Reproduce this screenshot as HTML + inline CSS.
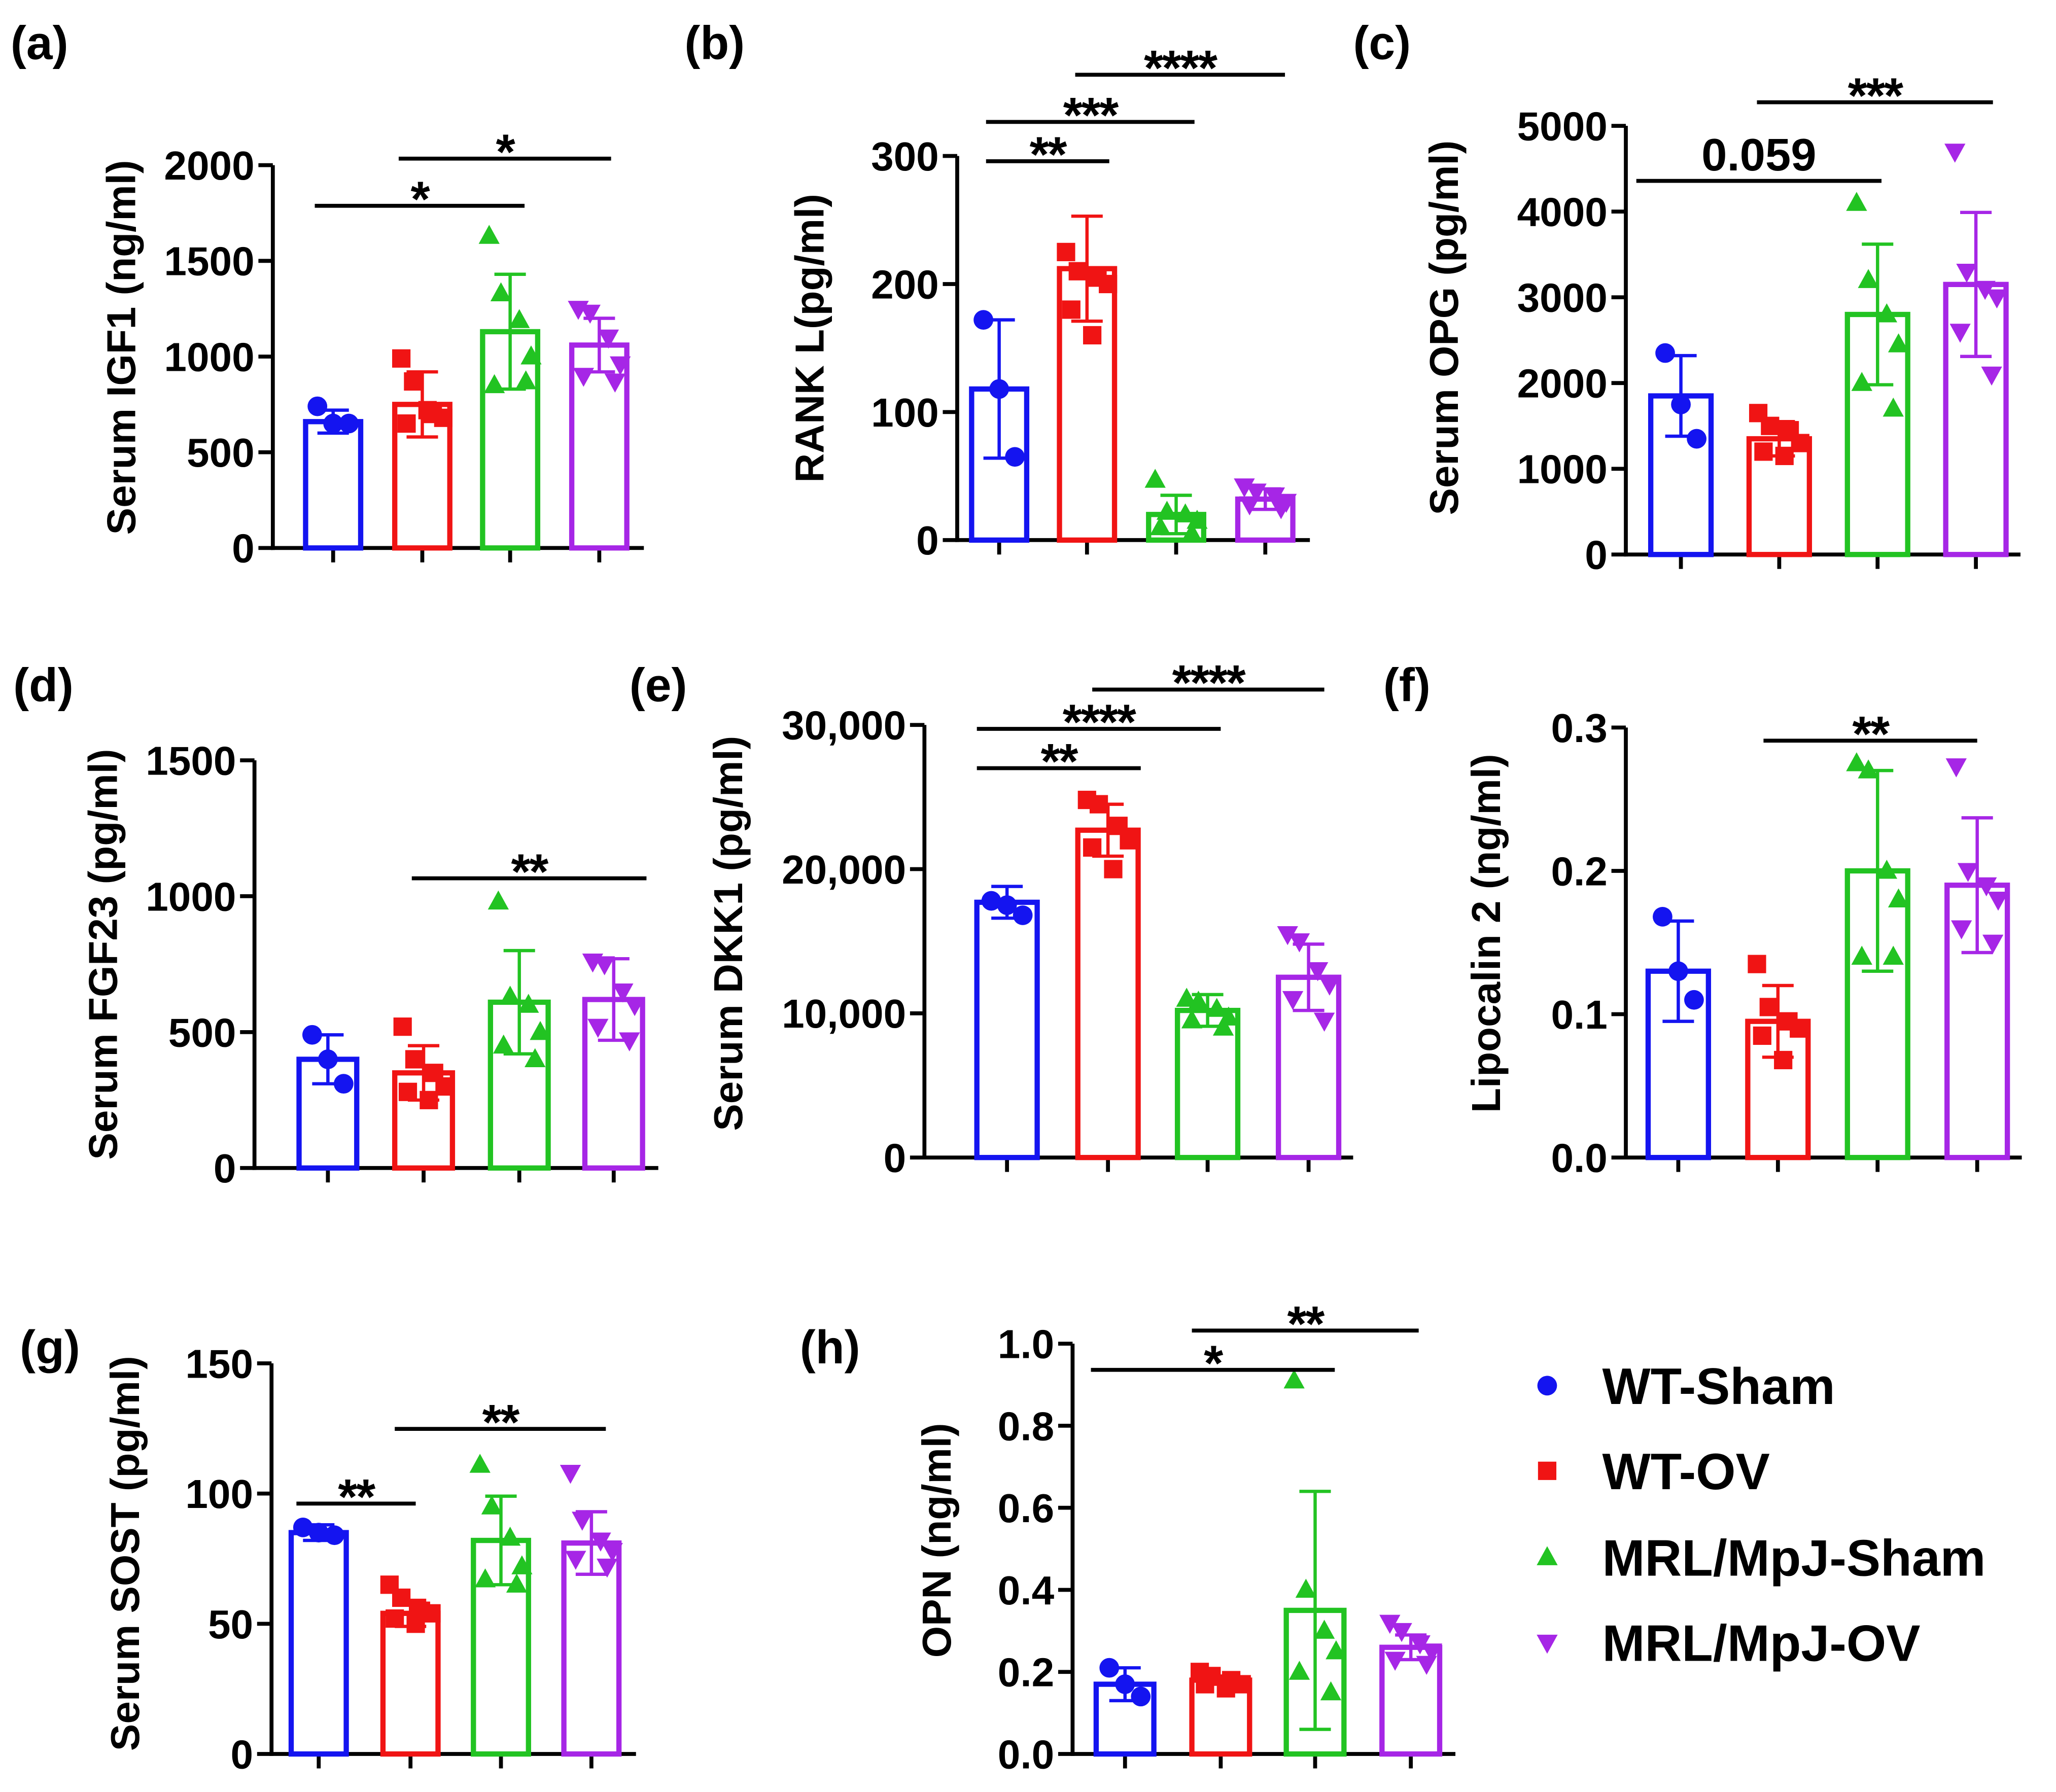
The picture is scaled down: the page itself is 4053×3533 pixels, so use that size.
<!DOCTYPE html>
<html><head><meta charset="utf-8"><style>
html,body{margin:0;padding:0;background:#fff;}
svg{display:block;}
text{font-family:"Liberation Sans",Arial,sans-serif;font-weight:bold;fill:#000;}
</style></head><body>
<svg id="fig" width="4053" height="3533" viewBox="0 0 1568 1367" xmlns="http://www.w3.org/2000/svg"></svg>
<script>
const categories = ["WT-Sham","WT-OV","MRL/MpJ-Sham","MRL/MpJ-OV"];
const colors = ["#1414f0","#f01414","#22c322","#a626e6"];
// (a) IGF1
const igf1Means = [660,750,1130,1060];
const igf1Err = [720,920,1430,1200];
const igf1Points = [[740,650,650],[990,870,700,680,650,720],[1630,1330,1190,1000,850,870],[1250,1230,1100,960,900,870]];
const igf1Ticks = [0,500,1000,1500,2000];
// (b) RANKL
const ranklMeans = [118,212,20,32];
const ranklErr = [172,253,35,40];
const ranklPoints = [[172,118,65],[225,210,205,200,180,160],[47,22,20,15,10,5],[42,38,35,30,28,25]];
const ranklTicks = [0,100,200,300];
// (c) OPG
const opgMeans = [1850,1350,2800,3150];
const opgErr = [2320,1550,3620,3990];
const opgPoints = [[2350,1750,1350],[1650,1500,1450,1300,1200,1150],[4100,3200,2800,2450,2000,1700],[4700,3300,3100,3000,2600,2100]];
const opgTicks = [0,1000,2000,3000,4000,5000];
// (d) FGF23
const fgfMeans = [400,350,610,620];
const fgfErr = [490,450,800,770];
const fgfPoints = [[490,400,310],[520,400,350,300,280,250],[980,630,600,500,450,400],[760,750,650,600,520,470]];
const fgfTicks = [0,500,1000,1500];
// (e) DKK1
const dkkMeans = [17700,22700,10200,12500];
const dkkErr = [18800,24500,11300,14800];
const dkkPoints = [[17800,17500,16800],[24800,24500,23000,22000,21500,20000],[11000,10800,10300,9700,9500,9000],[15500,15000,13000,12000,11000,9500]];
const dkkTicks = [0,10000,20000,30000];
const dkkTickLabels = ["0","10,000","20,000","30,000"];
// (f) Lipocalin 2
const lcnMeans = [0.13,0.095,0.2,0.19];
const lcnErr = [0.165,0.12,0.27,0.237];
const lcnPoints = [[0.168,0.13,0.11],[0.135,0.105,0.095,0.09,0.085,0.068],[0.275,0.27,0.2,0.18,0.14,0.14],[0.273,0.2,0.19,0.18,0.16,0.15]];
const lcnTicks = [0,0.1,0.2,0.3];
const lcnTickLabels = ["0.0","0.1","0.2","0.3"];
// (g) SOST
const sostMeans = [85,54,82,81];
const sostErr = [88,59,99,93];
const sostPoints = [[87,85,84],[65,60,55,54,52,50],[111,95,83,72,67,65],[108,90,82,78,75,72]];
const sostTicks = [0,50,100,150];
// (h) OPN
const opnMeans = [0.17,0.18,0.35,0.26];
const opnErr = [0.21,0.19,0.64,0.29];
const opnPoints = [[0.21,0.17,0.14],[0.2,0.19,0.18,0.17,0.17,0.16],[0.91,0.4,0.3,0.25,0.2,0.15],[0.32,0.3,0.27,0.25,0.23,0.22]];
const opnTicks = [0,0.2,0.4,0.6,0.8,1.0];
const opnTickLabels = ["0.0","0.2","0.4","0.6","0.8","1.0"];

const NS="http://www.w3.org/2000/svg";
const svg=document.getElementById('fig');
function mk(tag,attrs,parent){const e=document.createElementNS(NS,tag);for(const k in attrs)e.setAttribute(k,attrs[k]);(parent||svg).appendChild(e);return e;}

const panels=[
 {id:"a",letter:[8,45],ax:208,y0:418,y1:126,max:2000,cx:[254,322,389,457],bw:42,means:igf1Means,err:igf1Err,pts:igf1Points,ticks:igf1Ticks,title:"Serum IGF1 (ng/ml)",tx:103,ty:265,
  sig:[[157,240,400,"*"],[121,304,466,"*"]]},
 {id:"b",letter:[522,45],ax:730,y0:412,y1:119,max:300,cx:[762,829,897,965],bw:42,means:ranklMeans,err:ranklErr,pts:ranklPoints,ticks:ranklTicks,title:"RANK L(pg/ml)",tx:628,ty:258,
  sig:[[123,752,846,"**"],[93,752,911,"***"],[57,820,980,"****"]]},
 {id:"c",letter:[1032,45],ax:1240,y0:423,y1:96,max:5000,cx:[1282,1357,1432,1507],bw:46,means:opgMeans,err:opgErr,pts:opgPoints,ticks:opgTicks,title:"Serum OPG (pg/ml)",tx:1112,ty:250,
  sig:[[138,1248,1435,"0.059"],[78,1340,1520,"***"]]},
 {id:"d",letter:[10,535],ax:194,y0:891,y1:580,max:1500,cx:[250,323,396,468],bw:44,means:fgfMeans,err:fgfErr,pts:fgfPoints,ticks:fgfTicks,title:"Serum FGF23 (pg/ml)",tx:89,ty:728,
  sig:[[670,314,493,"**"]]},
 {id:"e",letter:[480,535],ax:705,y0:883,y1:553,max:30000,cx:[768,845,921,998],bw:46,means:dkkMeans,err:dkkErr,pts:dkkPoints,ticks:dkkTicks,tickLabels:dkkTickLabels,title:"Serum DKK1 (pg/ml)",tx:566,ty:712,
  sig:[[586,745,870,"**"],[556,745,931,"****"],[526,833,1010,"****"]]},
 {id:"f",letter:[1055,535],ax:1240,y0:883,y1:555,max:0.3,cx:[1280,1356,1432,1508],bw:46,means:lcnMeans,err:lcnErr,pts:lcnPoints,ticks:lcnTicks,tickLabels:lcnTickLabels,title:"Lipocalin 2 (ng/ml)",tx:1144,ty:712,
  sig:[[565,1345,1508,"**"]]},
 {id:"g",letter:[15,1040],ax:207,y0:1338,y1:1040,max:150,cx:[243,313,382,451],bw:42,means:sostMeans,err:sostErr,pts:sostPoints,ticks:sostTicks,title:"Serum SOST (pg/ml)",tx:106,ty:1185,
  sig:[[1147,226,317,"**"],[1090,301,462,"**"]]},
 {id:"h",letter:[610,1040],ax:818,y0:1338,y1:1025,max:1.0,cx:[858,931,1003,1076],bw:44,means:opnMeans,err:opnErr,pts:opnPoints,ticks:opnTicks,tickLabels:opnTickLabels,title:"OPN (ng/ml)",tx:725,ty:1175,
  sig:[[1045,832,1018,"*"],[1015,909,1082,"**"]]}
];
const jit=[[-12,0,12],[-16,-7,8,16,-12,4],[-16,-7,7,16,-12,12],[-16,-7,7,16,-12,12]];

function marker(g,k,x,y){
 const c=colors[k];let e;
 if(k===0)e=mk('circle',{cx:x,cy:y,r:7.5,fill:c},g);
 else if(k===1)e=mk('rect',{x:x-7,y:y-7,width:14,height:14,fill:c},g);
 else if(k===2)e=mk('polygon',{points:`${x},${y-8.5} ${x-8},${y+6} ${x+8},${y+6}`,fill:c},g);
 else e=mk('polygon',{points:`${x},${y+8.5} ${x-8},${y-6} ${x+8},${y-6}`,fill:c},g);
 return e;
}

panels.forEach(p=>{
 const g=mk('g',{});
 
 
 const Y=v=>p.y0-(v/p.max)*(p.y0-p.y1);
 const lt=mk('text',{x:p.letter[0],y:p.letter[1],'font-size':36},g);lt.textContent='('+p.id+')';
 
 
 const ya=mk('line',{x1:p.ax,y1:p.y0+1.5,x2:p.ax,y2:Y(p.ticks[p.ticks.length-1]),stroke:'#000','stroke-width':3},g);
 
 
 p.ticks.forEach((t,i)=>{
  const y=Y(t);
  mk('line',{x1:p.ax-11,y1:y,x2:p.ax,y2:y,stroke:'#000','stroke-width':3},g);
  const tl=mk('text',{x:p.ax-14,y:y+11,'font-size':31,'text-anchor':'end'},g);
  tl.textContent=p.tickLabels?p.tickLabels[i]:String(t);
  
  
 });
 const xEnd=p.cx[3]+34;
 const xa=mk('line',{x1:p.ax-1.5,y1:p.y0,x2:xEnd,y2:p.y0,stroke:'#000','stroke-width':3},g);
 
 
 p.cx.forEach(x=>mk('line',{x1:x,y1:p.y0,x2:x,y2:p.y0+11,stroke:'#000','stroke-width':3},g));
 const tt=mk('text',{x:p.tx,y:p.ty,'font-size':31,'text-anchor':'middle',transform:`rotate(-90 ${p.tx} ${p.ty})`},g);
 tt.textContent=p.title;
 
 
 p.means.forEach((m,k)=>{
  const x=p.cx[k],c=colors[k];
  const b=mk('rect',{x:x-p.bw/2,y:Y(m),width:p.bw,height:p.y0-Y(m),fill:'#fff',stroke:c,'stroke-width':4},g);
  
  
  const sd=p.err[k]-m;
  const lo=Math.max(0,m-sd);
  mk('line',{x1:x,y1:Y(p.err[k]),x2:x,y2:Y(lo),stroke:c,'stroke-width':2.5},g);
  mk('line',{x1:x-12,y1:Y(p.err[k]),x2:x+12,y2:Y(p.err[k]),stroke:c,'stroke-width':2.5},g);
  if(m-sd>0)mk('line',{x1:x-12,y1:Y(lo),x2:x+12,y2:Y(lo),stroke:c,'stroke-width':2.5},g);
  p.pts[k].forEach((v,i)=>{
   const pt=marker(g,k,x+jit[k][i%jit[k].length],Y(v));
   
   
  });
 });
 p.sig.forEach(s=>{
  const l=mk('line',{x1:s[1],y1:s[0],x2:s[2],y2:s[0],stroke:'#000','stroke-width':3},g);
  
  
  const isN=s[3]==="0.059";
  const st=mk('text',{x:(s[1]+s[2])/2,y:s[0]-(isN?8:-8),'font-size':isN?35:38,'text-anchor':'middle','letter-spacing':isN?0:-1},g);
  st.textContent=s[3];
  
  
 });
});
const lg=mk('g',{});


const ly=[1057,1122,1188,1253];
categories.forEach((n,k)=>{
 const m=marker(lg,k,1180,ly[k]);
 
 
 const t=mk('text',{x:1222,y:ly[k]+14,'font-size':39},lg);
 t.textContent=n;
 
 
});
</script>
</body></html>
